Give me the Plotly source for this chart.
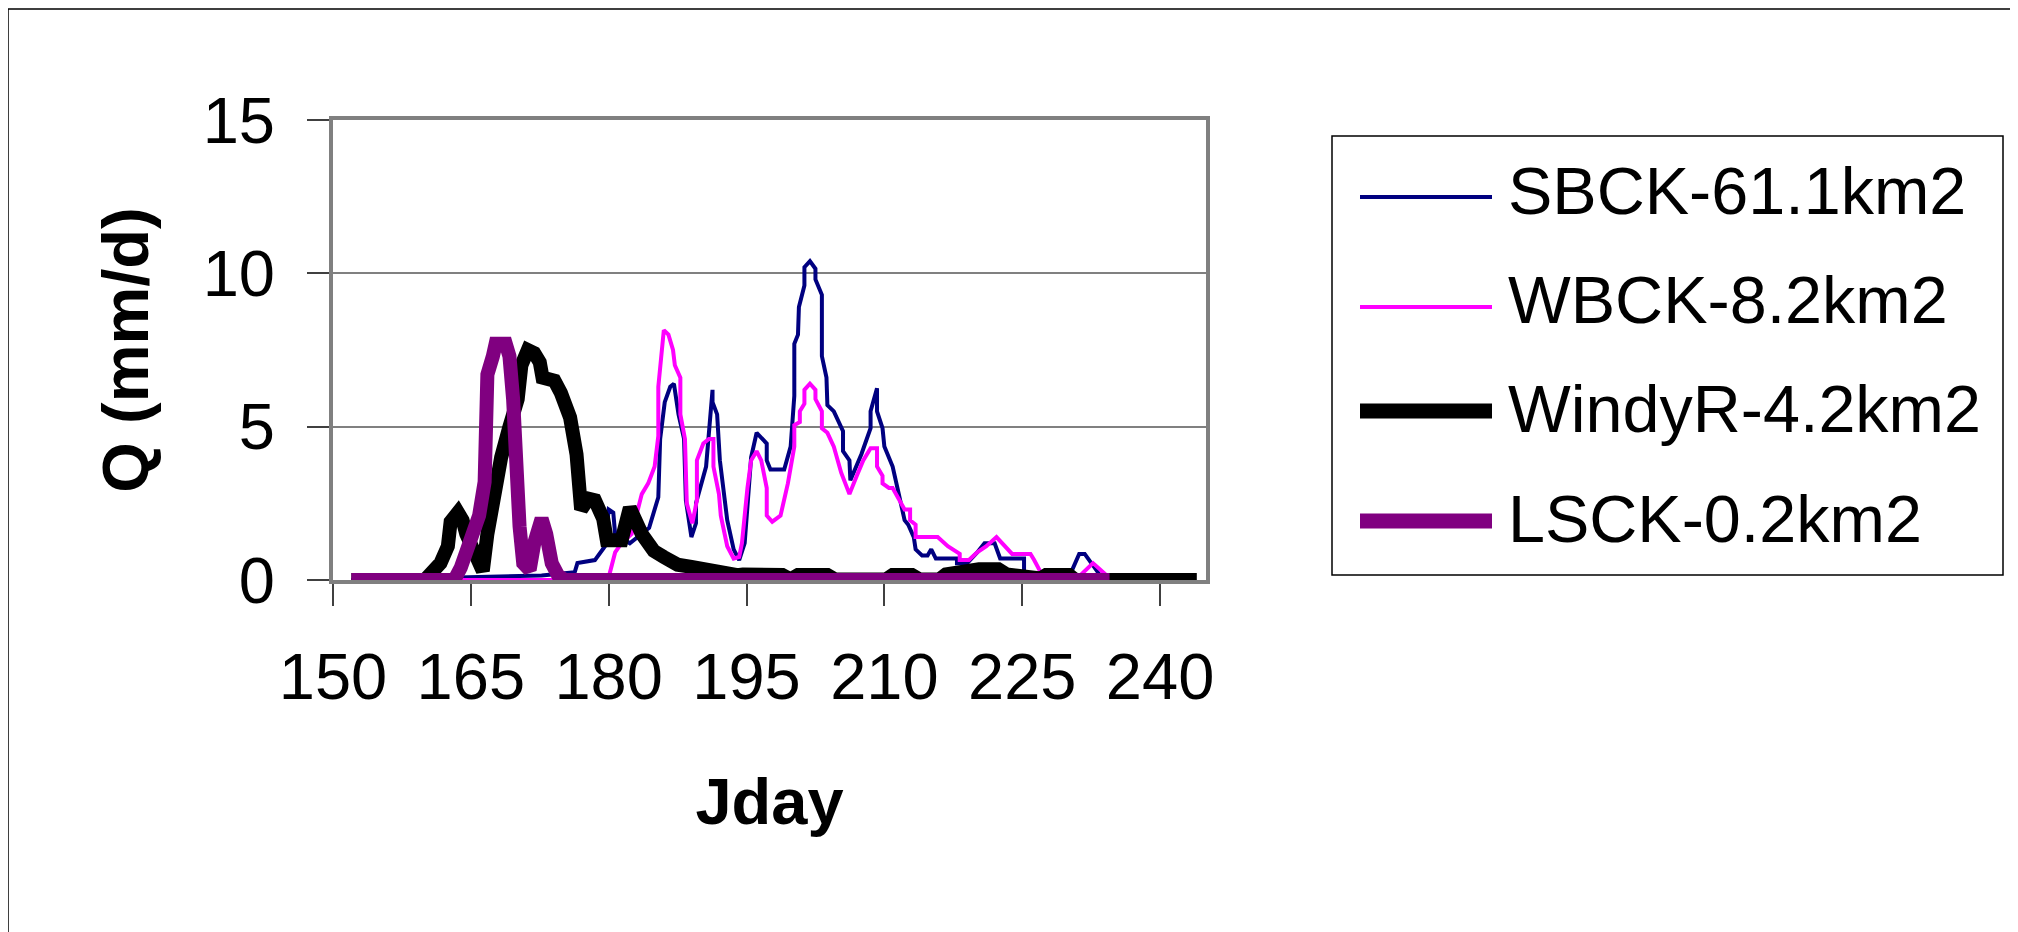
import plotly.graph_objects as go

# ---------------- data ----------------
sbck_day = [152, 172.7, 176.3, 176.6, 178.5, 179.6, 180.0, 180.5, 180.7, 182.3, 184.4, 185.0, 185.4,
            185.6, 186.1, 186.7, 187.1, 187.6, 188.2, 188.4, 189.0, 189.5, 189.5, 190.6, 191.3, 191.3,
            191.8, 192.1, 192.5, 192.9, 193.6, 194.2, 194.8, 195.3, 195.5, 196.1, 197.2, 197.2, 197.6,
            199.1, 199.8, 200.2, 200.2, 200.6, 200.7, 201.3, 201.3, 201.9, 202.5, 202.5, 203.2, 203.2,
            203.7, 203.8, 204.5, 205.5, 205.5, 206.2, 206.3, 207.5, 208.5, 208.5, 209.2, 209.2, 209.8,
            210.0, 210.9, 211.5, 212.2, 212.6, 213.2, 213.4, 214.1, 214.7, 215.1, 215.6, 217.9, 217.9,
            219.0, 220.1, 220.9, 222.0, 222.6, 225.2, 225.2, 225.9, 226.7, 230.1, 231.2, 231.8, 232.9,
            233.6, 234.5]
sbck_q = [0, 0.15, 0.25, 0.55, 0.65, 1.1, 2.3, 2.2, 1.5, 1.2, 1.7, 2.3, 2.7,
          4.6, 5.8, 6.3, 6.4, 5.4, 4.6, 2.6, 1.4, 1.85, 2.5, 3.7, 6.2, 5.8,
          5.4, 3.9, 3.0, 1.95, 1.0, 0.65, 1.2, 3.0, 4.0, 4.8, 4.45, 3.9, 3.6,
          3.6, 4.35, 6.0, 7.7, 8.0, 8.9, 9.6, 10.2, 10.4, 10.15, 9.8, 9.3, 7.3,
          6.6, 5.7, 5.5, 4.85, 4.2, 3.9, 3.25, 4.1, 4.95, 5.5, 6.25, 5.5, 4.95,
          4.35, 3.7, 2.9, 1.95, 1.8, 1.4, 1.0, 0.8, 0.8, 1.0, 0.7, 0.7, 0.55,
          0.55, 0.9, 1.2, 1.2, 0.7, 0.7, 0.3, 0.2, 0.1, 0.1, 0.85, 0.85, 0.4,
          0.1, 0]

wbck_day = [152, 179.8, 180.1, 180.7, 181.4, 182.5, 183.6, 184.3, 185.0, 185.4, 185.4, 185.8, 186.0,
            186.5, 187.0, 187.2, 187.8, 187.8, 188.3, 188.5, 189.1, 189.6, 189.6, 190.3, 190.9, 191.4,
            191.4, 192.0, 192.2, 192.9, 193.6, 194.2, 194.5, 195.1, 195.5, 196.1, 196.6, 197.2, 197.2,
            197.8, 198.7, 199.5, 200.2, 200.2, 200.8, 200.8, 201.3, 201.3, 201.9, 202.5, 202.5, 203.2,
            203.2, 203.8, 204.5, 205.3, 206.2, 207.0, 207.7, 208.5, 209.2, 209.2, 209.8, 209.8, 210.5,
            210.9, 212.2, 212.8, 212.8, 213.4, 213.4, 215.8, 216.9, 218.2, 218.2, 219.2, 220.1, 221.1,
            222.2, 223.9, 225.9, 226.3, 227.1, 227.8, 230.8, 232.7, 234.0, 234.5]
wbck_q = [0, 0, 0.2, 0.9, 1.2, 1.5, 2.8, 3.15, 3.7, 4.7, 6.3, 7.4, 8.15,
          8.0, 7.5, 7.0, 6.6, 5.4, 4.6, 2.5, 1.85, 2.6, 3.9, 4.45, 4.6, 4.6,
          3.7, 2.8, 2.1, 1.1, 0.7, 0.75, 1.2, 3.0, 3.9, 4.2, 3.9, 3.0, 2.1,
          1.9, 2.1, 3.15, 4.35, 5.05, 5.15, 5.5, 5.75, 6.2, 6.4, 6.2, 5.9, 5.5,
          4.95, 4.8, 4.35, 3.5, 2.8, 3.4, 3.9, 4.3, 4.3, 3.7, 3.4, 3.15, 3.0,
          3.0, 2.3, 2.3, 1.95, 1.8, 1.4, 1.4, 1.1, 0.85, 0.65, 0.65, 0.9, 1.1,
          1.4, 0.85, 0.85, 0.65, 0.2, 0.05, 0, 0.55, 0.2, 0]

windy_day = [152, 160.0, 160.6, 161.7, 162.5, 162.8, 163.6, 164.1, 164.5, 165.0, 165.7, 166.3, 166.8,
             167.5, 168.3, 169.2, 170.1, 170.5, 171.2, 171.9, 172.5, 172.8, 174.1, 174.8, 175.8, 176.5,
             177.0, 177.8, 178.5, 179.4, 179.8, 181.4, 182.3, 183.6, 184.9, 186.0, 187.5, 189.0, 190.4,
             191.6, 192.5, 194.0, 194.6, 197.0, 198.9, 199.8, 200.6, 203.8, 204.6, 210.2, 210.9, 213.0,
             213.8, 216.0, 216.7, 220.3, 222.4, 223.3, 226.3, 227.0, 227.6, 230.1, 230.8, 244.0]
windy_q = [0, 0, 0.2, 0.55, 1.1, 1.9, 2.2, 1.95, 1.5, 1.2, 0.55, 0.3, 1.5,
           2.8, 4.0, 5.0, 5.9, 7.0, 7.5, 7.4, 7.1, 6.6, 6.5, 6.1, 5.3, 4.1,
           2.3, 2.65, 2.6, 2.0, 1.3, 1.3, 2.35, 1.5, 0.95, 0.75, 0.5, 0.43, 0.33,
           0.33, 0.18, 0.16, 0.18, 0.16, 0.16, 0.02, 0.16, 0.16, 0.02, 0.02, 0.16, 0.16,
           0.02, 0.02, 0.18, 0.35, 0.35, 0.18, 0.16, 0.05, 0.16, 0.16, 0, 0]

lsck_day = [152, 163.2, 163.9, 165.0, 165.9, 166.5, 166.6, 166.8, 167.4, 167.7, 168.8, 169.2, 169.6,
            169.7, 170.0, 170.3, 170.7, 171.4, 171.9, 172.7, 173.2, 173.8, 174.5, 175.2, 234.5]
lsck_q = [0, 0, 0.4, 1.3, 2.1, 3.2, 4.8, 6.7, 7.3, 7.7, 7.7, 7.3, 5.9,
          4.8, 3.15, 1.75, 0.55, 0.33, 1.2, 2.0, 1.5, 0.55, 0.15, 0, 0]

series_names = ["SBCK-61.1km2", "WBCK-8.2km2", "WindyR-4.2km2", "LSCK-0.2km2"]
series_colors = ["#000080", "#FF00FF", "#000000", "#800080"]
x_ticks = [150, 165, 180, 195, 210, 225, 240]
y_ticks = [0, 5, 10, 15]

# ---------------- layout geometry ----------------
OFF = 8                                   # page body margin of the html page
W, H = 2018 - OFF, 932 - OFF
L, R, T, B = 333 - OFF, 1206 - OFF, 120 - OFF, 580 - OFF   # plot area (figure px)
PW, PH = R - L, B - T
def px_x(p):                              # page px -> paper x
    return (p - OFF - L) / PW
def px_y(p):                              # page px -> paper y
    return (B - (p - OFF)) / PH

FONT = "Liberation Sans, Arial, sans-serif"
widths = [4, 4, 14, 14]
legend_widths = [4, 4, 15, 15]

fig = go.Figure()
days = [sbck_day, wbck_day, windy_day, lsck_day]
qs = [sbck_q, wbck_q, windy_q, lsck_q]
for d, q, name, col, w in zip(days, qs, series_names, series_colors, widths):
    fig.add_trace(go.Scatter(x=d, y=q, mode="lines", name=name,
                             line=dict(color=col, width=w), showlegend=False))

shapes = []
annotations = []
# outer chart-area frame
shapes.append(dict(type="rect", xref="paper", yref="paper",
                   x0=px_x(8), x1=px_x(2060), y0=px_y(980), y1=px_y(9),
                   line=dict(color="black", width=1.5), fillcolor="rgba(0,0,0,0)", layer="below"))
# legend box
shapes.append(dict(type="rect", xref="paper", yref="paper",
                   x0=px_x(1332), x1=px_x(2003), y0=px_y(575), y1=px_y(136),
                   line=dict(color="black", width=1.5), fillcolor="white", layer="below"))
line_rows = [197, 307, 411, 521]
text_rows = [191, 300, 409, 519]
for i, name in enumerate(series_names):
    shapes.append(dict(type="line", xref="paper", yref="paper",
                       x0=px_x(1360), x1=px_x(1492), y0=px_y(line_rows[i]), y1=px_y(line_rows[i]),
                       line=dict(color=series_colors[i], width=legend_widths[i])))
    annotations.append(dict(text=name, xref="paper", yref="paper", x=px_x(1506), y=px_y(text_rows[i]),
                            xanchor="left", yanchor="middle", showarrow=False,
                            font=dict(family=FONT, size=66.5, color="black")))

fig.update_layout(
    width=W, height=H, autosize=False,
    margin=dict(l=L, r=W - R, t=T, b=H - B, pad=0, autoexpand=False),
    paper_bgcolor="white", plot_bgcolor="white",
    showlegend=False,
    shapes=shapes, annotations=annotations,
    font=dict(family=FONT, color="black"),
)
fig.update_xaxes(range=[150, 245], tickmode="array", tickvals=x_ticks,
                 ticks="outside", ticklen=22, tickwidth=1.5, tickcolor="#404040",
                 showline=True, linecolor="#808080", linewidth=4, mirror=True,
                 showgrid=False, zeroline=False, automargin=False,
                 tickfont=dict(family=FONT, size=65, color="black"), ticklabelstandoff=15,
                 title=dict(text="Jday", standoff=67,
                            font=dict(family=FONT, size=65, color="black", weight="bold")))
fig.update_yaxes(range=[0, 15], tickmode="array", tickvals=y_ticks,
                 ticks="outside", ticklen=22, tickwidth=1.5, tickcolor="#404040",
                 showline=True, linecolor="#808080", linewidth=4, mirror=True,
                 showgrid=True, gridcolor="#808080", gridwidth=1.5, zeroline=False, automargin=False,
                 tickfont=dict(family=FONT, size=65, color="black"), ticklabelstandoff=19,
                 title=dict(text="Q (mm/d)", standoff=34,
                            font=dict(family=FONT, size=65, color="black", weight="bold")))

fig.write_html("out.html")
